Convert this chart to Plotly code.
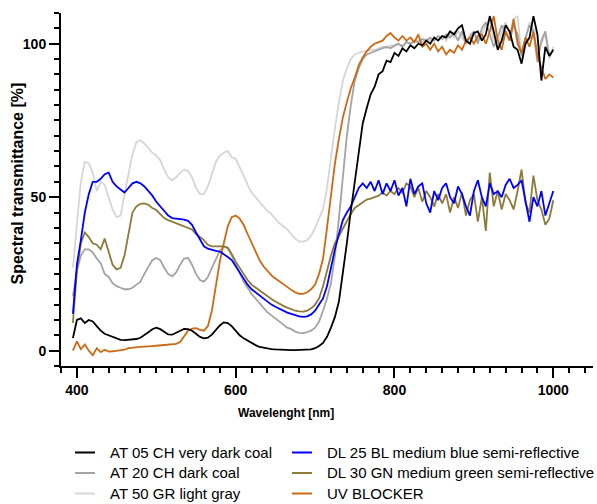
import plotly.graph_objects as go

wavelength = list(range(395, 1001, 5))

at05 = [
    4.1, 10, 10.5, 9, 10, 9.5, 8, 6.5, 5.5, 5,
    4.5, 4, 3.5, 3.4, 3.5, 3.6, 3.8, 4.2, 5, 6,
    7, 7.5, 7, 6, 5.3, 5.2, 5.8, 6.5, 7.1, 7,
    6.5, 5.5, 4.5, 4, 4.2, 5.2, 6.8, 8.2, 9.2, 9,
    8, 6.5, 5, 4, 3.2, 2.5, 1.8, 1.2, 0.9, 0.7,
    0.5, 0.4, 0.3, 0.3, 0.2, 0.2, 0.2, 0.2, 0.2, 0.3,
    0.4, 0.8, 1.5, 2.5, 4.5, 7.5, 11, 16, 25, 35,
    45.5, 55, 66, 74, 79, 83.5, 86, 90, 91, 94.5,
    94, 97, 96, 98.5, 97.5, 99.5, 98.5, 100, 99.5, 101,
    100, 102, 101, 102.5, 102, 104, 103, 105, 106, 101,
    100, 103.5, 104, 101, 103, 109, 104, 98, 101, 106,
    104, 99, 98, 93.5, 100, 102, 109, 103, 88, 99,
    96, 98,
]

at20 = [
    17.7, 26, 31, 33, 33, 32, 30, 28.5, 25, 24,
    22, 21, 20.5, 20, 20, 20.5, 21.5, 22.5, 25, 27.5,
    29.5, 30.2, 29.5, 27, 25, 24.2, 25.5, 28, 30, 30.2,
    28, 25, 23, 22.5, 24, 27, 30, 32.5, 34, 33.5,
    31, 28, 25, 22.5, 20.5, 18.5, 17, 15.5, 14, 12.5,
    11.5, 10.5, 9.5, 8.5, 7.5, 7, 6.2, 5.8, 5.7, 6,
    6.5, 7.5, 9.5, 13, 17, 22, 31, 43, 57, 70,
    80, 88, 92, 95, 96.5, 97, 97.5, 98, 98.5, 99,
    98.5, 99.5, 100, 99, 100.5, 100, 101, 100.5, 101.5, 101,
    102, 101, 102.5, 101.5, 103, 102, 103.5, 101, 104, 100,
    102, 104, 100, 105, 107, 103, 99, 102, 106, 104,
    101, 106, 103, 96, 102, 106, 104, 94, 101, 104,
    96, 98,
]

at50 = [
    27, 40, 55, 61.5, 61, 58, 52, 55, 54, 50,
    46, 43.5, 44, 51, 57, 64, 68, 68.5, 67.5, 66,
    64.5, 63.5, 62, 59, 56.5, 55.5, 56.5, 58, 59, 58.5,
    56.5, 53, 51, 51, 53.5, 57.5, 61.5, 63.5, 64.5, 65,
    63, 62.5, 60, 57, 54, 51.5, 50, 48.5, 47, 45.5,
    44.5, 43, 41.5, 40.5, 39.5, 38, 36.5, 35.5, 35.5, 36,
    37.5, 40, 43, 46, 53, 63, 72.5, 81, 88, 92,
    95, 96.5, 97, 97.5, 97.5, 98, 98, 98.5, 99, 98.5,
    99.5, 99, 100, 99.5, 100.5, 100, 100.5, 101, 100.5, 101.5,
    101, 102, 101.5, 102.5, 101, 103, 102, 104, 102, 100,
    103, 104, 101, 103, 106, 108, 101, 99, 104, 107,
    103, 108, 109, 97, 101, 107, 105, 96, 100, 103,
    95, 99,
]

dl25 = [
    12, 28, 36, 45, 51, 55, 55, 56, 57.5, 58,
    55, 53.5, 52.5, 51.5, 53, 54.5, 55, 54.5, 53.5, 52,
    50.5, 48.5, 47, 45.5, 44, 43.2, 43, 43, 42.7, 42.3,
    41, 38.5, 36, 34, 33.2, 32.8, 32.5, 32.3, 31.5, 30.5,
    29.5, 27.5, 25.5, 23.5, 21.5, 20, 19, 17.8, 16.8, 15.8,
    15, 14.3, 13.6, 13, 12.4, 12, 11.5, 11.2, 11, 11.2,
    11.8, 13, 15, 17, 21, 27.5, 33, 38, 42.5, 45,
    47, 50, 53, 54.5, 53, 55, 52, 55.5, 51, 54.5,
    52, 55.5, 50.5, 53, 47, 56, 51, 53.5, 54.5, 48,
    45, 52, 49, 53, 54.5, 50, 48, 53.5, 51, 47,
    44, 52, 55.5, 50, 47, 54.5, 51, 52, 50, 54,
    56, 53, 54, 55.5, 49, 42, 50, 47, 52, 44,
    48, 52,
]

dl30 = [
    9, 26, 35, 38.5, 37, 35, 34.5, 33, 36.5, 32,
    28, 26.5, 27, 31, 38, 45, 47, 47.8, 48, 47.5,
    46.5, 45.8, 44.5, 43.2, 42.5, 42, 41.5, 41, 40.5, 40,
    39.5, 38, 37, 36, 34.5, 34, 34, 34, 34, 33.5,
    31.5, 29, 27, 25, 23, 21.5, 20.5, 19.5, 18.5, 17.5,
    16.8, 16, 15.2, 14.6, 14, 13.5, 13, 12.8, 12.7, 13,
    13.8, 15, 17, 21, 26, 31, 35, 37.5, 40, 42.5,
    44.5, 46.5, 47.5, 48.5, 49.2, 49.5, 50, 50.5, 51.5, 50.5,
    52, 51, 53, 51.5, 54.5, 53.5, 50, 53, 48.5, 52,
    50, 47, 51, 48, 51, 45, 50, 46.5, 51.5, 44,
    49, 51, 42, 50, 39, 58, 47, 52, 46, 51,
    49, 46, 52, 59, 48, 45, 57, 49, 46, 41,
    43, 49,
]

uv = [
    0, 3, 0.5, 2, 0, -1.5, 0.8, -0.5, 0.3, -0.3,
    -0.2, 0, 0, 0.3, 0.8, 1, 1.1, 1.2, 1.3, 1.5,
    1.5, 1.6, 1.7, 1.8, 2, 2, 2.2, 2.8, 4.5, 6.5,
    7.2, 7.3, 6.8, 6.5, 8, 13, 21, 29, 35, 40.5,
    43.5, 44, 43, 41, 38, 35, 32, 29.5, 27.5, 26,
    24.5, 23.5, 22.5, 21.5, 20.5, 19.8, 19, 18.5, 18.5, 19,
    20, 21.5, 25, 30, 40, 51, 61, 69, 76, 81,
    85.5, 89, 93, 95.5, 97.5, 99, 100, 100.5, 101, 102.5,
    103.5, 102, 101, 102.5, 101, 102, 100.5, 103, 99, 100,
    98, 100, 97.5, 99, 96.5, 98, 97, 99.5, 98, 101,
    102, 100, 102.5, 103, 100, 104, 109, 101, 98, 104,
    101, 108, 100, 97, 102, 99, 104, 96, 92, 88.5,
    90, 89,
]

names = [
    "AT 05 CH very dark coal",
    "AT 20 CH dark coal",
    "AT 50 GR light gray",
    "DL 25 BL medium blue semi-reflective",
    "DL 30 GN medium green semi-reflective",
    "UV BLOCKER",
]
colors = ["#000000", "#a3a3a3", "#d6d6d6", "#0000ff", "#8c7b3a", "#cc6a12"]
series = [at05, at20, at50, dl25, dl30, uv]
draw_order = [2, 1, 5, 4, 3, 0]

# figure geometry (pixels)
W, H = 597, 504
ML, MR, MT, MB = 61, 4, 13, 138
PW, PH = W - ML - MR, H - MT - MB


def px(xp):
    return (xp - ML) / PW


def py(yp):
    return (H - MB - yp) / PH


fig = go.Figure()
for i in draw_order:
    fig.add_trace(go.Scatter(
        x=wavelength, y=series[i], mode="lines", name=names[i],
        line=dict(color=colors[i], width=1.8), showlegend=False,
    ))

# legend drawn as line samples + text (two columns of three)
leg_cols = [(75, 95, 109), (292, 312, 326)]
leg_rows = [452.5, 473, 493.5]
shapes, annotations = [], []
for k in range(6):
    c, r = divmod(k, 3)
    x0, x1, xt = leg_cols[c]
    yy = leg_rows[r]
    shapes.append(dict(type="line", xref="paper", yref="paper",
                       x0=px(x0), x1=px(x1), y0=py(yy), y1=py(yy),
                       line=dict(color=colors[k], width=2)))
    annotations.append(dict(text=names[k], xref="paper", yref="paper",
                            x=px(xt), y=py(yy), xanchor="left", yanchor="middle",
                            showarrow=False, borderpad=0,
                            font=dict(size=15, color="black")))

annotations.append(dict(text="<b>Wavelenght [nm]</b>", xref="paper", yref="paper",
                        x=0.422, y=py(413), xanchor="center", yanchor="middle",
                        showarrow=False, font=dict(size=12, color="black")))
annotations.append(dict(text="<b>Spectral transmittance [%]</b>", xref="paper", yref="paper",
                        x=px(17), y=py(183.5), xanchor="center", yanchor="middle",
                        showarrow=False, textangle=-90, font=dict(size=16, color="black")))

axis_common = dict(
    showgrid=False, zeroline=False, showline=True, linecolor="black", linewidth=2,
    ticks="outside", ticklen=10, tickwidth=2, tickcolor="black", automargin=False,
    tickfont=dict(family="Liberation Sans, Arial, sans-serif", size=14, color="black", weight="bold"),
)

fig.update_layout(
    width=W, height=H,
    margin=dict(l=ML, r=MR, t=MT, b=MB, autoexpand=False),
    paper_bgcolor="white", plot_bgcolor="white", showlegend=False,
    font=dict(family="Liberation Sans, Arial, sans-serif", color="black"),
    xaxis=dict(range=[380, 1050], tick0=400, dtick=200,
               minor=dict(dtick=20, tick0=400, ticks="outside", ticklen=5, tickwidth=2, tickcolor="black"),
               **axis_common),
    yaxis=dict(range=[-5, 110], tick0=0, dtick=50,
               minor=dict(dtick=5, tick0=0, ticks="outside", ticklen=5, tickwidth=2, tickcolor="black"),
               **axis_common),
    shapes=shapes,
    annotations=annotations,
)

fig.write_html(
    "out.html",
    config={"displayModeBar": False},
    post_script="document.body.style.margin='0';document.body.style.padding='0';document.body.style.overflow='hidden';",
)
